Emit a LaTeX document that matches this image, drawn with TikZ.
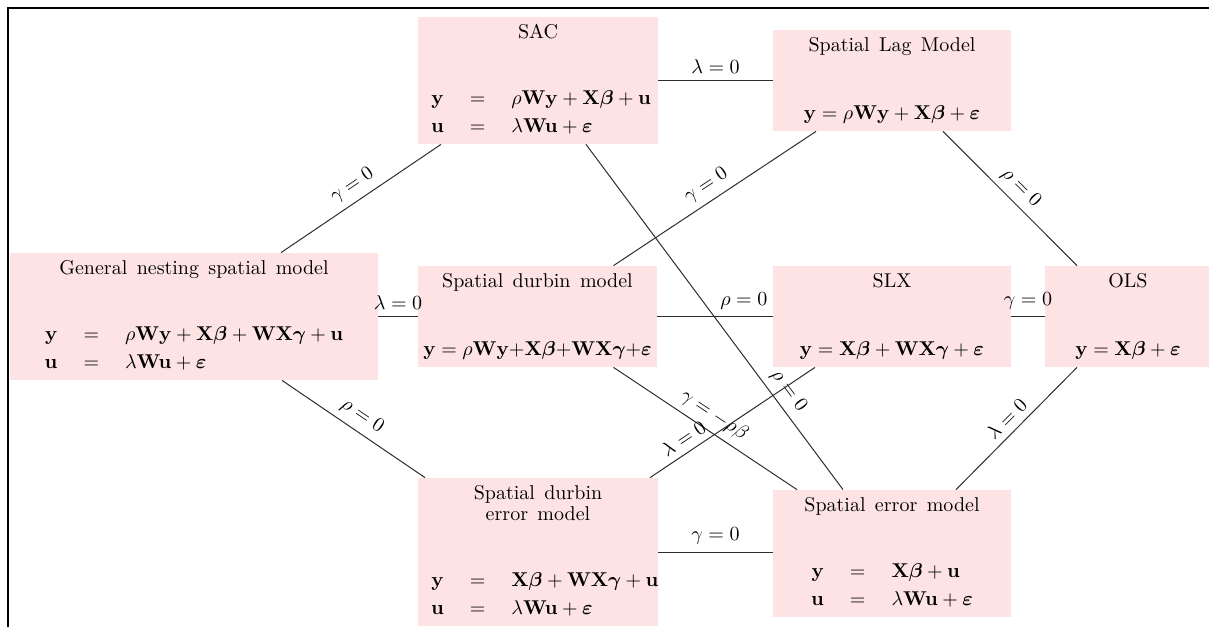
\documentclass[tikz,border=0pt]{standalone}
\usepackage{amsmath, amssymb}
\usepackage{tikz}
\usetikzlibrary{calc}
\usepackage{xcolor}
\definecolor{boxpink}{RGB}{253, 227, 227}
\definecolor{linegray}{RGB}{45, 45, 45}
\setlength{\arraycolsep}{6.5pt}
% title on top, equations at the bottom of a fixed-size box
\newcommand{\modeltext}[4]{\parbox[c][#2][s]{#1}{\centering\spaceskip=4.7pt
  \vspace*{2.5pt}\strut #3\par\vfill #4\strut\par\vspace*{2pt}}}

\begin{document}
\begin{tikzpicture}[
  x=0.5pt, y=-0.5pt,
  model/.style={fill=boxpink, inner sep=0pt},
  link/.style={draw=linegray, line width=0.5pt},
  lab/.style={sloped, above, text=black},
]
  \useasboundingbox (0,0) rectangle (1209,627);
  \draw[line width=1pt] (8,627) -- (8,8) -- (1209,8);

  \node[model] (sac) at (538,80.5) {\modeltext{120pt}{63.5pt}{SAC}{$\begin{array}{rcl}
    \mathbf{y} & = & \rho\mathbf{Wy}+\mathbf{X}\boldsymbol{\beta}+\mathbf{u}\\[2pt]
    \mathbf{u} & = & \lambda\mathbf{Wu}+\boldsymbol{\varepsilon}\end{array}$}};
  \node[model] (slm) at (892,80.5) {\modeltext{119pt}{50.5pt}{Spatial Lag Model}{$\mathbf{y}=\rho\mathbf{Wy}+\mathbf{X}\boldsymbol{\beta}+\boldsymbol{\varepsilon}$}};
  \node[model] (gns) at (194,316.5) {\modeltext{184pt}{63.5pt}{General nesting spatial model}{$\begin{array}{rcl}
    \mathbf{y} & = & \rho\mathbf{Wy}+\mathbf{X}\boldsymbol{\beta}+\mathbf{WX}\boldsymbol{\gamma}+\mathbf{u}\\[2pt]
    \mathbf{u} & = & \lambda\mathbf{Wu}+\boldsymbol{\varepsilon}\end{array}$}};
  \node[model] (sdm) at (537.5,316.5) {\modeltext{119.5pt}{50.5pt}{Spatial durbin model}{$\mathbf{y}=\rho\mathbf{Wy}{+}\mathbf{X}\boldsymbol{\beta}{+}\mathbf{WX}\boldsymbol{\gamma}{+}\boldsymbol{\varepsilon}$}};
  \node[model] (slx) at (892,316.5) {\modeltext{119pt}{50.5pt}{SLX}{$\mathbf{y}=\mathbf{X}\boldsymbol{\beta}+\mathbf{WX}\boldsymbol{\gamma}+\boldsymbol{\varepsilon}$}};
  \node[model] (ols) at (1128,316.5) {\modeltext{83pt}{50.5pt}{OLS}{$\mathbf{y}=\mathbf{X}\boldsymbol{\beta}+\boldsymbol{\varepsilon}$}};
  \node[model] (sdem) at (538,552) {\modeltext{120pt}{74pt}{Spatial durbin\\[-1.5pt]error model}{$\begin{array}{rcl}
    \mathbf{y} & = & \mathbf{X}\boldsymbol{\beta}+\mathbf{WX}\boldsymbol{\gamma}+\mathbf{u}\\[2pt]
    \mathbf{u} & = & \lambda\mathbf{Wu}+\boldsymbol{\varepsilon}\end{array}$}};
  \node[model] (sem) at (892,553.5) {\modeltext{119pt}{63.5pt}{Spatial error model}{$\begin{array}{rcl}
    \mathbf{y} & = & \mathbf{X}\boldsymbol{\beta}+\mathbf{u}\\[2pt]
    \mathbf{u} & = & \lambda\mathbf{Wu}+\boldsymbol{\varepsilon}\end{array}$}};

  % horizontal links
  \draw[link] (sac.east) -- node[lab, midway] {$\lambda=0$} (slm.west);
  \draw[link] (gns.east) -- node[lab, midway] {$\lambda=0$} (sdm.west);
  \draw[link] (sdm.east) -- node[lab, pos=0.75] {$\rho=0$} (slx.west);
  \draw[link] (slx.east) -- node[lab, midway] {$\gamma=0$} (ols.west);
  \draw[link] (sdem.east) -- node[lab, midway] {$\gamma=0$} (sdem.east -| sem.west);

  % diagonal links
  \draw[link] ($(gns.north)+(87,0)$) -- node[lab, midway] {$\gamma=0$} ($(sac.south)+(-97,0)$);
  \draw[link] ($(gns.south)+(88,0)$) -- node[lab, midway] {$\rho=0$} ($(sdem.north)+(-113,0)$);
  \draw[link] ($(sac.south)+(48,0)$) -- node[lab, pos=0.74] {$\rho=0$} ($(sem.north)+(-49,0)$);
  \draw[link] ($(sdm.north)+(76,0)$) -- node[lab, midway] {$\gamma=0$} ($(slm.south)+(-76,0)$);
  \draw[link] ($(slm.south)+(51,0)$) -- node[lab, midway] {$\rho=0$} ($(ols.north)+(-51,0)$);
  \draw[link] ($(sdm.south)+(76,0)$) -- node[lab, midway] {$\gamma=-\rho\beta$} ($(sem.north)+(-95,0)$);
  \draw[link] ($(sdem.north)+(112,0)$) -- node[lab, pos=0.25] {$\lambda=0$} ($(slx.south)+(-77,0)$);
  \draw[link] ($(sem.north)+(64,0)$) -- node[lab, midway] {$\lambda=0$} ($(ols.south)+(-51,0)$);
\end{tikzpicture}
\end{document}
